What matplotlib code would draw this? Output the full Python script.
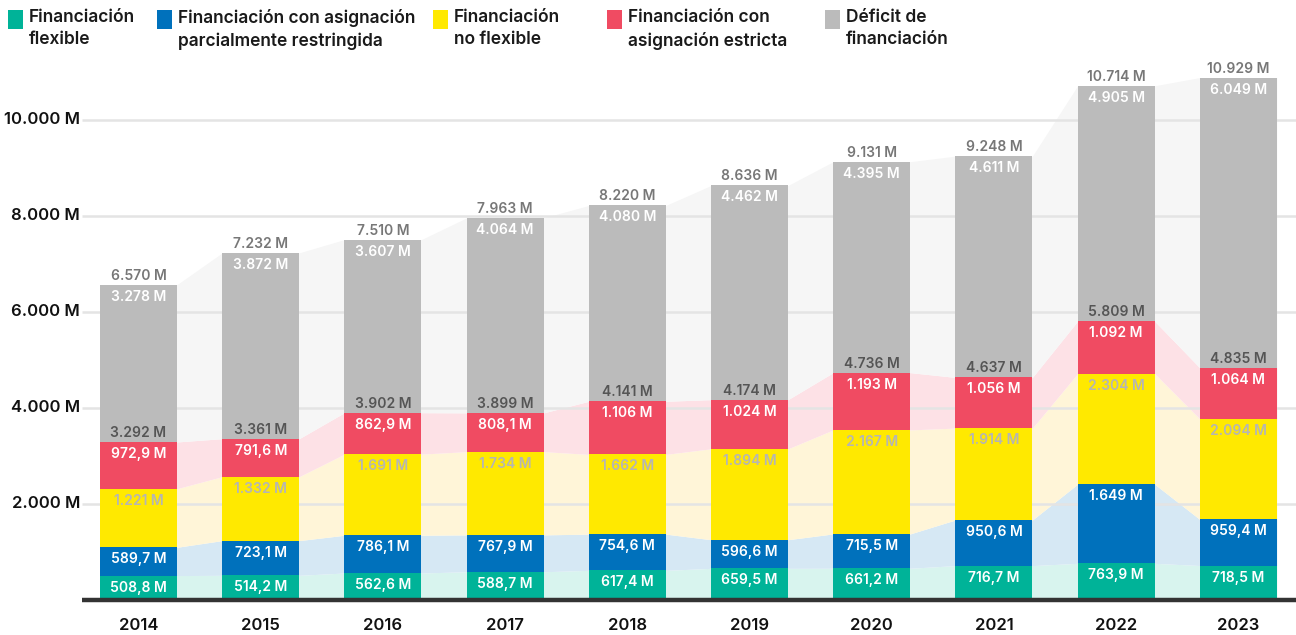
import matplotlib
matplotlib.use("Agg")
import matplotlib.pyplot as plt
import numpy as np
from matplotlib.patches import Rectangle

years = ["2014", "2015", "2016", "2017", "2018", "2019", "2020", "2021", "2022", "2023"]
flexible = [508.8, 514.2, 562.6, 588.7, 617.4, 659.5, 661.2, 716.7, 763.9, 718.5]
partial = [589.7, 723.1, 786.1, 767.9, 754.6, 596.6, 715.5, 950.6, 1649, 959.4]
no_flexible = [1221, 1332, 1691, 1734, 1662, 1894, 2167, 1914, 2304, 2094]
strict = [972.9, 791.6, 862.9, 808.1, 1106, 1024, 1193, 1056, 1092, 1064]
funded_total = [3292, 3361, 3902, 3899, 4141, 4174, 4736, 4637, 5809, 4835]
deficit = [3278, 3872, 3607, 4064, 4080, 4462, 4395, 4611, 4905, 6049]
grand_total = [6570, 7232, 7510, 7963, 8220, 8636, 9131, 9248, 10714, 10929]

series_names = ["Financiación\nflexible", "Financiación con asignación\nparcialmente restringida",
                "Financiación\nno flexible", "Financiación con\nasignación estricta",
                "Déficit de\nfinanciación"]
y_ticks = [2000, 4000, 6000, 8000, 10000]

colors = ["#00b398", "#0071bc", "#ffe900", "#f04b62", "#bbbbbb"]
light = ["#d8f4ee", "#d6e8f4", "#fff5d8", "#fde1e6", "#f6f6f6"]
label_colors = ["white", "white", "#b5b5b5", "white", "white"]

FONT = "Inter"
WEIGHT = "semibold"
plt.rcParams["font.family"] = [FONT, "DejaVu Sans"]


def fmt(v):
    if v < 1000:
        return f"{v:.1f}".replace(".", ",") + " M"
    return f"{int(round(v)):,}".replace(",", ".") + " M"


W, H = 1296, 635
fig = plt.figure(figsize=(W / 100, H / 100), dpi=100)
ax_left, ax_right = 82, 1296
ax_bottom, ax_top = 600, 60
ax = fig.add_axes([ax_left / W, (H - ax_bottom) / H, (ax_right - ax_left) / W, (ax_bottom - ax_top) / H])

center0, spacing = 138.5, 122.2
xl = ((ax_left - center0) / spacing, (ax_right - center0) / spacing)
ymax = 11250
ax.set_xlim(*xl)
ax.set_ylim(0, ymax)
ax.axis("off")
px_per_unit = (ax_bottom - ax_top) / ymax

x = np.arange(len(years))
bw = 77 / spacing
data = [flexible, partial, no_flexible, strict, deficit]
stack = np.zeros((6, len(years)))
for k, s in enumerate(data):
    stack[k + 1] = stack[k] + np.array(s)

# connecting areas
xs = np.ravel(np.column_stack([x - bw / 2, x + bw / 2]))
for k in range(5):
    lo = np.repeat(stack[k], 2)
    hi = np.repeat(stack[k + 1], 2)
    ax.fill_between(xs, lo, hi, color=light[k], lw=0, zorder=1)

# gridlines
for t in y_ticks:
    ax.plot([xl[0], xl[1]], [t, t], color="#e4e4e4", lw=1.8, zorder=2, solid_capstyle="butt")
    fig.text((ax_left - 2) / W, 1 - (ax_bottom - t * px_per_unit) / H, f"{t:,}".replace(",", ".") + " M",
             ha="right", va="center", fontsize=12, fontweight=WEIGHT, color="#111111")

# bars
for k in range(5):
    ax.bar(x, data[k], bottom=stack[k], width=bw, color=colors[k], lw=0, zorder=3)

# baseline
ax.plot([xl[0], xl[1]], [0, 0], color="#333333", lw=3.2, zorder=5, solid_capstyle="butt", clip_on=False)

off_in = 12 / px_per_unit
off_out = 9 / px_per_unit
fs = 10
for i in range(len(years)):
    for k in range(5):
        ax.text(x[i], stack[k + 1][i] - off_in, fmt(data[k][i]), ha="center", va="center",
                fontsize=fs, fontweight=WEIGHT, color=label_colors[k], zorder=6)
    ax.text(x[i], stack[4][i] + off_out, fmt(funded_total[i]), ha="center", va="center",
            fontsize=fs, fontweight=WEIGHT, color="#555555", zorder=6)
    ax.text(x[i], stack[5][i] + off_out, fmt(grand_total[i]), ha="center", va="center",
            fontsize=fs, fontweight=WEIGHT, color="#777777", zorder=6)
    ax.text(x[i], -25 / px_per_unit, years[i], ha="center", va="center",
            fontsize=12, fontweight=WEIGHT, color="#111111", clip_on=False)

# legend
sq_x = [8, 157, 433, 607, 825]
for k in range(5):
    fig.patches.append(Rectangle((sq_x[k] / W, 1 - 29 / H), 15 / W, 19 / H,
                                 transform=fig.transFigure, color=colors[k], lw=0))
    fig.text((sq_x[k] + 21) / W, 1 - 9 / H, series_names[k], ha="left", va="top",
             fontsize=12.5, fontweight=WEIGHT, color="#1a1a1a", linespacing=1.42)

fig.savefig("out.png", dpi=100)
